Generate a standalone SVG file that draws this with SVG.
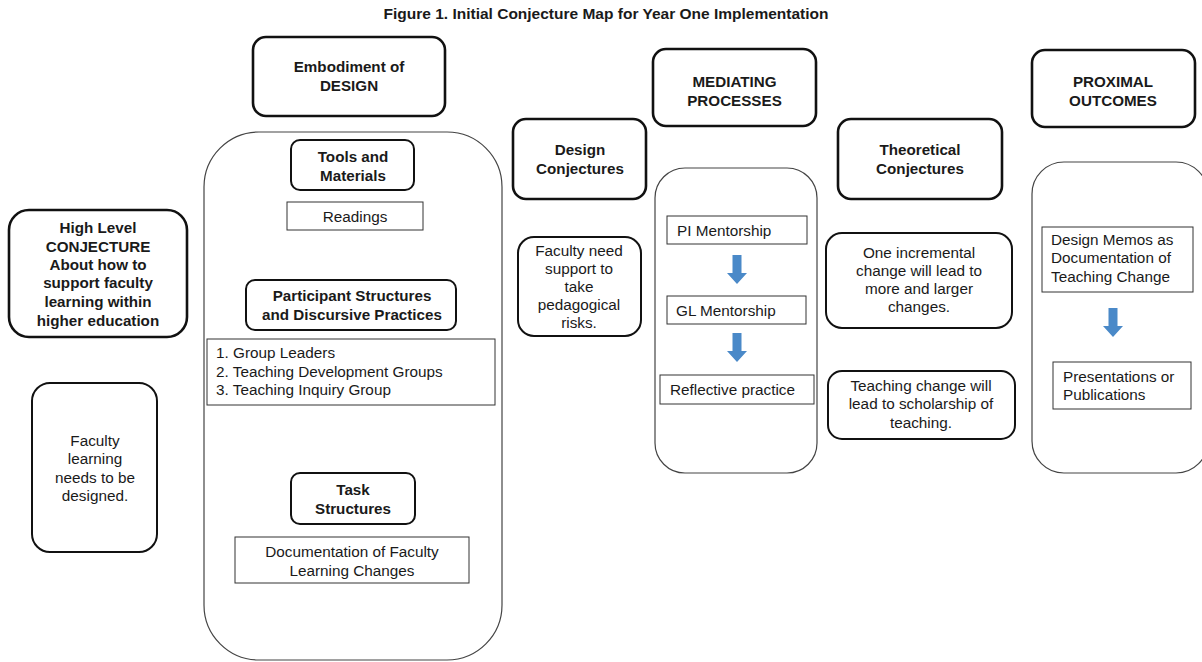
<svg xmlns="http://www.w3.org/2000/svg" width="1202" height="662" viewBox="0 0 1202 662">
<defs>
<style>
text{font-family:"Liberation Sans",Arial,sans-serif;fill:#1a1a1a}
.t{font-size:15.5px;font-weight:bold}
.h{font-size:15.2px;font-weight:bold;text-anchor:middle}
.r{font-size:15.3px;text-anchor:middle}
.l{font-size:15.3px}
.thick{fill:#fff;stroke:#111;stroke-width:2.6}
.mid{fill:#fff;stroke:#111;stroke-width:2}
.thin{fill:none;stroke:#444;stroke-width:1.2}
.box{fill:#fff;stroke:#333;stroke-width:1}
.arr{fill:#4a89c8}
</style>
<path id="darrow" d="M-4.5,0 H4.5 V18 H10 L0,29 L-10,18 H-4.5 Z"/>
</defs>
<rect width="1202" height="662" fill="#fff"/>
<text class="t" x="606" y="19" text-anchor="middle">Figure 1. Initial  Conjecture Map for Year One Implementation</text>

<g id="embodiment-container"><rect class="thin" x="204" y="132" width="298" height="528" rx="55"/></g>
<g id="mediating-container"><rect class="thin" x="655" y="168" width="162" height="305" rx="30"/></g>
<g id="proximal-container"><rect class="thin" x="1032" y="162" width="176" height="311" rx="32"/></g>

<g id="embodiment-design"><rect class="thick" x="253" y="37" width="192" height="79" rx="13"/>
<text class="h" x="349" y="72">Embodiment of</text><text class="h" x="349" y="91">DESIGN</text></g>

<g id="mediating-processes"><rect class="thick" x="653" y="49" width="163" height="77" rx="13"/>
<text class="h" x="734.5" y="87">MEDIATING</text><text class="h" x="734.5" y="106">PROCESSES</text></g>

<g id="proximal-outcomes"><rect class="thick" x="1032" y="50" width="163" height="77" rx="13"/>
<text class="h" x="1113" y="87">PROXIMAL</text><text class="h" x="1113" y="106">OUTCOMES</text></g>

<g id="design-conjectures"><rect class="thick" x="513" y="119" width="133" height="80" rx="13"/>
<text class="h" x="580" y="155">Design</text><text class="h" x="580" y="174">Conjectures</text></g>

<g id="theoretical-conjectures"><rect class="thick" x="838" y="119" width="164" height="80" rx="13"/>
<text class="h" x="920" y="155">Theoretical</text><text class="h" x="920" y="174">Conjectures</text></g>

<g id="tools-materials"><rect class="mid" x="291" y="140" width="123" height="50" rx="9"/>
<text class="h" x="353" y="162">Tools and</text><text class="h" x="353" y="181">Materials</text></g>

<g id="readings"><rect class="box" x="287" y="202" width="136" height="28"/>
<text class="r" x="355" y="222">Readings</text></g>

<g id="participant-structures"><rect class="mid" x="246" y="280" width="210" height="50" rx="9"/>
<text class="h" x="352" y="301">Participant Structures</text><text class="h" x="352" y="320">and Discursive Practices</text></g>

<g id="group-list"><rect class="box" x="207" y="339" width="288" height="66"/>
<text class="l" x="216" y="358">1. Group Leaders</text>
<text class="l" x="216" y="377">2. Teaching Development Groups</text>
<text class="l" x="216" y="395">3. Teaching Inquiry  Group</text></g>

<g id="task-structures"><rect class="mid" x="291" y="473" width="124" height="51" rx="9"/>
<text class="h" x="353" y="495">Task</text><text class="h" x="353" y="514">Structures</text></g>

<g id="documentation"><rect class="box" x="235" y="537" width="234" height="46"/>
<text class="r" x="352" y="557">Documentation of Faculty</text><text class="r" x="352" y="576">Learning Changes</text></g>

<g id="high-level"><rect class="thick" x="9" y="210" width="178" height="127" rx="20"/>
<text class="h" x="98" y="233">High Level</text>
<text class="h" x="98" y="252">CONJECTURE</text>
<text class="h" x="98" y="270">About how to</text>
<text class="h" x="98" y="288">support faculty</text>
<text class="h" x="98" y="307">learning within</text>
<text class="h" x="98" y="326">higher education</text></g>

<g id="faculty-learning"><rect class="mid" x="32" y="383" width="125" height="169" rx="18"/>
<text class="r" x="95" y="446">Faculty</text>
<text class="r" x="95" y="464">learning</text>
<text class="r" x="95" y="483">needs to be</text>
<text class="r" x="95" y="501">designed.</text></g>

<g id="faculty-need"><rect class="mid" x="518" y="237" width="123" height="99" rx="16"/>
<text class="r" x="579" y="256">Faculty need</text>
<text class="r" x="579" y="274">support to</text>
<text class="r" x="579" y="292">take</text>
<text class="r" x="579" y="310">pedagogical</text>
<text class="r" x="579" y="328">risks.</text></g>

<g id="pi-mentorship"><rect class="box" x="667" y="216" width="140" height="28"/>
<text class="l" x="677" y="236">PI Mentorship</text></g>
<g id="gl-mentorship"><rect class="box" x="667" y="296" width="139" height="28"/>
<text class="l" x="676" y="316">GL Mentorship</text></g>
<g id="reflective"><rect class="box" x="660" y="375" width="154" height="29"/>
<text class="l" x="670" y="395">Reflective practice</text></g>

<g id="one-incremental"><rect class="mid" x="826" y="233" width="186" height="95" rx="16"/>
<text class="r" x="919" y="258">One incremental</text>
<text class="r" x="919" y="276">change will lead to</text>
<text class="r" x="919" y="294">more and larger</text>
<text class="r" x="919" y="312">changes.</text></g>

<g id="teaching-change"><rect class="mid" x="828" y="371" width="187" height="68" rx="14"/>
<text class="r" x="921" y="391">Teaching change will</text>
<text class="r" x="921" y="409">lead to scholarship of</text>
<text class="r" x="921" y="428">teaching.</text></g>

<g id="design-memos"><rect class="box" x="1042" y="227" width="151" height="65"/>
<text class="l" x="1051" y="245">Design Memos as</text>
<text class="l" x="1051" y="263">Documentation of</text>
<text class="l" x="1051" y="282">Teaching Change</text></g>

<g id="presentations"><rect class="box" x="1053" y="362" width="138" height="47"/>
<text class="l" x="1063" y="382">Presentations or</text>
<text class="l" x="1063" y="400">Publications</text></g>

<g id="connectors">
<use href="#darrow" class="arr" x="737" y="255"/>
<use href="#darrow" class="arr" x="737" y="333"/>
<use href="#darrow" class="arr" x="1113" y="308"/>
</g>
</svg>
